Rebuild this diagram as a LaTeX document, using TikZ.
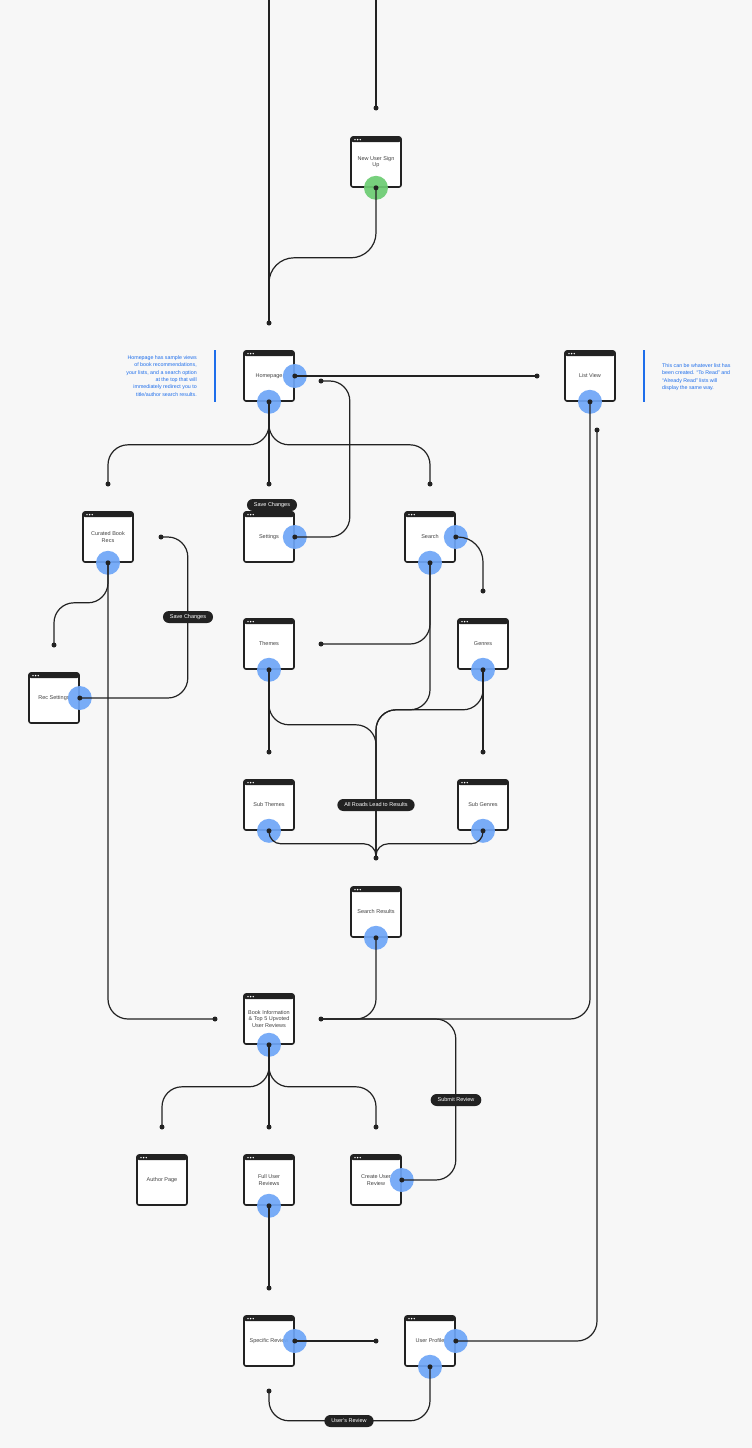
\documentclass[tikz,border=0pt]{standalone}
\usepackage{fontspec}
\setmainfont{Liberation Sans}
\usetikzlibrary{positioning}
\definecolor{ink}{RGB}{34,34,34}
\definecolor{paper}{RGB}{247,247,247}
\definecolor{hotblue}{RGB}{110,166,247}
\definecolor{hotgreen}{RGB}{108,204,114}
\definecolor{noteblue}{RGB}{30,110,235}
\tikzset{
  screen/.style={draw=ink, line width=1.6pt, fill=white, rounded corners=2pt,
    minimum width=50pt, minimum height=50pt, inner sep=0pt, align=center,
    font=\fontsize{5.5}{6.6}\selectfont, text=ink!85,
    path picture={
      \fill[ink] (path picture bounding box.north west) rectangle ([yshift=-5pt]path picture bounding box.north east);
      \foreach \i in {0,1,2}
        \fill[white] ([xshift=4pt+\i*2.6pt,yshift=-2.6pt]path picture bounding box.north west) circle (0.8pt);
    }},
  hot/.style={circle, fill=hotblue, fill opacity=0.92, minimum size=24pt, inner sep=0pt},
  wire/.style={draw=ink, line width=1.2pt, rounded corners=20pt},
  tag/.style={fill=ink, text=white, rounded corners=6pt, inner xsep=7pt, inner ysep=0pt,
    minimum height=12pt, font=\fontsize{5.5}{6.6}\selectfont},
  note/.style={text=noteblue, inner sep=0pt, font=\fontsize{5.3}{7.4}\selectfont}
}
\begin{document}
\begin{tikzpicture}[x=1pt,y=-1pt]
  \fill[paper] (0,0) rectangle (752,1448);
  \useasboundingbox (0,0) rectangle (752,1448);

  % screens
  \node[screen] (signup) at (376,162) {New User Sign\\Up};
  \node[screen] (home) at (269,376) {Homepage};
  \node[screen] (list) at (590,376) {List View};
  \node[screen] (recs) at (108,537) {Curated Book\\Recs};
  \node[screen] (settings) at (269,537) {Settings};
  \node[screen] (search) at (430,537) {Search};
  \node[screen] (recset) at (54,698) {Rec Settings};
  \node[screen] (themes) at (269,644) {Themes};
  \node[screen] (genres) at (483,644) {Genres};
  \node[screen] (subthemes) at (269,805) {Sub Themes};
  \node[screen] (subgenres) at (483,805) {Sub Genres};
  \node[screen] (results) at (376,912) {Search Results};
  \node[screen] (book) at (269,1019) {Book Information\\\& Top 5 Upvoted\\User Reviews};
  \node[screen] (author) at (162,1180) {Author Page};
  \node[screen] (full) at (269,1180) {Full User\\Reviews};
  \node[screen] (create) at (376,1180) {Create User\\Review};
  \node[screen] (specific) at (269,1341) {Specific Review};
  \node[screen] (profile) at (430,1341) {User Profile};

  % hotspots
  \node[hot, fill=hotgreen] (su) at (signup.south) {};
  \node[hot] (hr) at (home.east) {};
  \node[hot] (hb) at (home.south) {};
  \node[hot] (lb) at (list.south) {};
  \node[hot] (cb) at (recs.south) {};
  \node[hot] (sr) at (settings.east) {};
  \node[hot] (qr) at (search.east) {};
  \node[hot] (qb) at (search.south) {};
  \node[hot] (rr) at (recset.east) {};
  \node[hot] (tb) at (themes.south) {};
  \node[hot] (gb) at (genres.south) {};
  \node[hot] (stb) at (subthemes.south) {};
  \node[hot] (sgb) at (subgenres.south) {};
  \node[hot] (resb) at (results.south) {};
  \node[hot] (bb) at (book.south) {};
  \node[hot] (fb) at (full.south) {};
  \node[hot] (cr) at (create.east) {};
  \node[hot] (spr) at (specific.east) {};
  \node[hot] (pr) at (profile.east) {};
  \node[hot] (pb) at (profile.south) {};

  % line ends
  \coordinate (top1) at (376,0);
  \coordinate (top1e) at (376,108);
  \coordinate (top2) at (269,0);
  \coordinate (top2e) at (269,323);
  \coordinate (e-list) at (537,376);
  \coordinate (e-home) at (321,381);
  \coordinate (e-recs) at (108,484);
  \coordinate (e-set) at (269,484);
  \coordinate (e-search) at (430,484);
  \coordinate (e-recret) at (161,537);
  \coordinate (e-recset) at (54,645);
  \coordinate (e-genres) at (483,591);
  \coordinate (e-themes) at (321,644);
  \coordinate (e-sub1) at (269,752);
  \coordinate (e-sub2) at (483,752);
  \coordinate (e-res) at (376,858);
  \coordinate (e-bookl) at (215,1019);
  \coordinate (e-bookr) at (321,1019);
  \coordinate (e-auth) at (162,1127);
  \coordinate (e-full) at (269,1127);
  \coordinate (e-create) at (376,1127);
  \coordinate (e-spec) at (269,1288);
  \coordinate (e-prof) at (376,1341);
  \coordinate (e-spret) at (269,1391);
  \coordinate (e-listret) at (597,430);

  % wires
  \draw[wire] (top1) -- (top1e);
  \draw[wire] (top2) -- (top2e);
  \draw[wire, rounded corners=25pt] (su.center) -- ++(0,70) -| (top2e);
  \draw[wire] (hr.center) -- (e-list);
  \draw[wire] (sr.center) -- ++(55,0) |- (e-home);
  \draw[wire] (hb.center) -- ++(0,43) -| (e-recs);
  \draw[wire] (hb.center) -- (e-set);
  \draw[wire] (hb.center) -- ++(0,43) -| (e-search);
  \draw[wire] (rr.center) -- ++(108,0) |- (e-recret);
  \draw[wire] (cb.center) -- ++(0,40) -| (e-recset);
  \draw[wire] (cb.center) |- (e-bookl);
  \draw[wire, rounded corners=25pt] (qr.center) -| (e-genres);
  \draw[wire] (qb.center) |- (e-themes);
  \draw[wire] (qb.center) -- ++(0,147) -| (e-res);
  \draw[wire] (tb.center) -- (e-sub1);
  \draw[wire] (gb.center) -- (e-sub2);
  \draw[wire] (tb.center) -- ++(0,55) -| (e-res);
  \draw[wire] (gb.center) -- ++(0,40) -| (e-res);
  \draw[wire, rounded corners=12pt] (stb.center) -- ++(0,13) -| (e-res);
  \draw[wire, rounded corners=12pt] (sgb.center) -- ++(0,13) -| (e-res);
  \draw[wire] (resb.center) |- (e-bookr);
  \draw[wire] (lb.center) |- (e-bookr);
  \draw[wire] (cr.center) -- ++(54,0) |- (e-bookr);
  \draw[wire] (bb.center) -- ++(0,42) -| (e-auth);
  \draw[wire] (bb.center) -- (e-full);
  \draw[wire] (bb.center) -- ++(0,42) -| (e-create);
  \draw[wire] (fb.center) -- (e-spec);
  \draw[wire] (spr.center) -- (e-prof);
  \draw[wire] (pb.center) -- ++(0,54) -| (e-spret);
  \draw[wire] (pr.center) -| (e-listret);

  % dots
  \foreach \c in {top1e,top2e,e-list,e-home,e-recs,e-set,e-search,e-recret,e-recset,
    e-genres,e-themes,e-sub1,e-sub2,e-res,e-bookl,e-bookr,e-auth,e-full,e-create,
    e-spec,e-prof,e-spret,e-listret,su,hr,hb,lb,cb,sr,qr,qb,rr,tb,gb,stb,sgb,resb,
    bb,fb,cr,spr,pr,pb}
    \fill[ink] (\c) circle (2.5pt);

  % labels
  \node[tag] (save1) at (272,505) {Save Changes};
  \node[tag] (save2) at (188,617) {Save Changes};
  \node[tag] (roads) at (376,805) {All Roads Lead to Results};
  \node[tag] (submit) at (456,1100) {Submit Review};
  \node[tag] (mine) at (349,1421) {User's Review};

  % notes
  \draw[noteblue, line width=1.2pt] (215,350) -- (215,402);
  \node[note, anchor=east, align=right] (homenote) at (197,376)
    {Homepage has sample views\\of book recommendations,\\your lists, and a search option\\at the top that will\\immediately redirect you to\\title/author search results.};
  \draw[noteblue, line width=1.2pt] (644,350) -- (644,402);
  \node[note, anchor=west, align=left] (listnote) at (662,377)
    {This can be whatever list has\\been created. ``To Read'' and\\``Already Read'' lists will\\display the same way.};
\end{tikzpicture}
\end{document}
